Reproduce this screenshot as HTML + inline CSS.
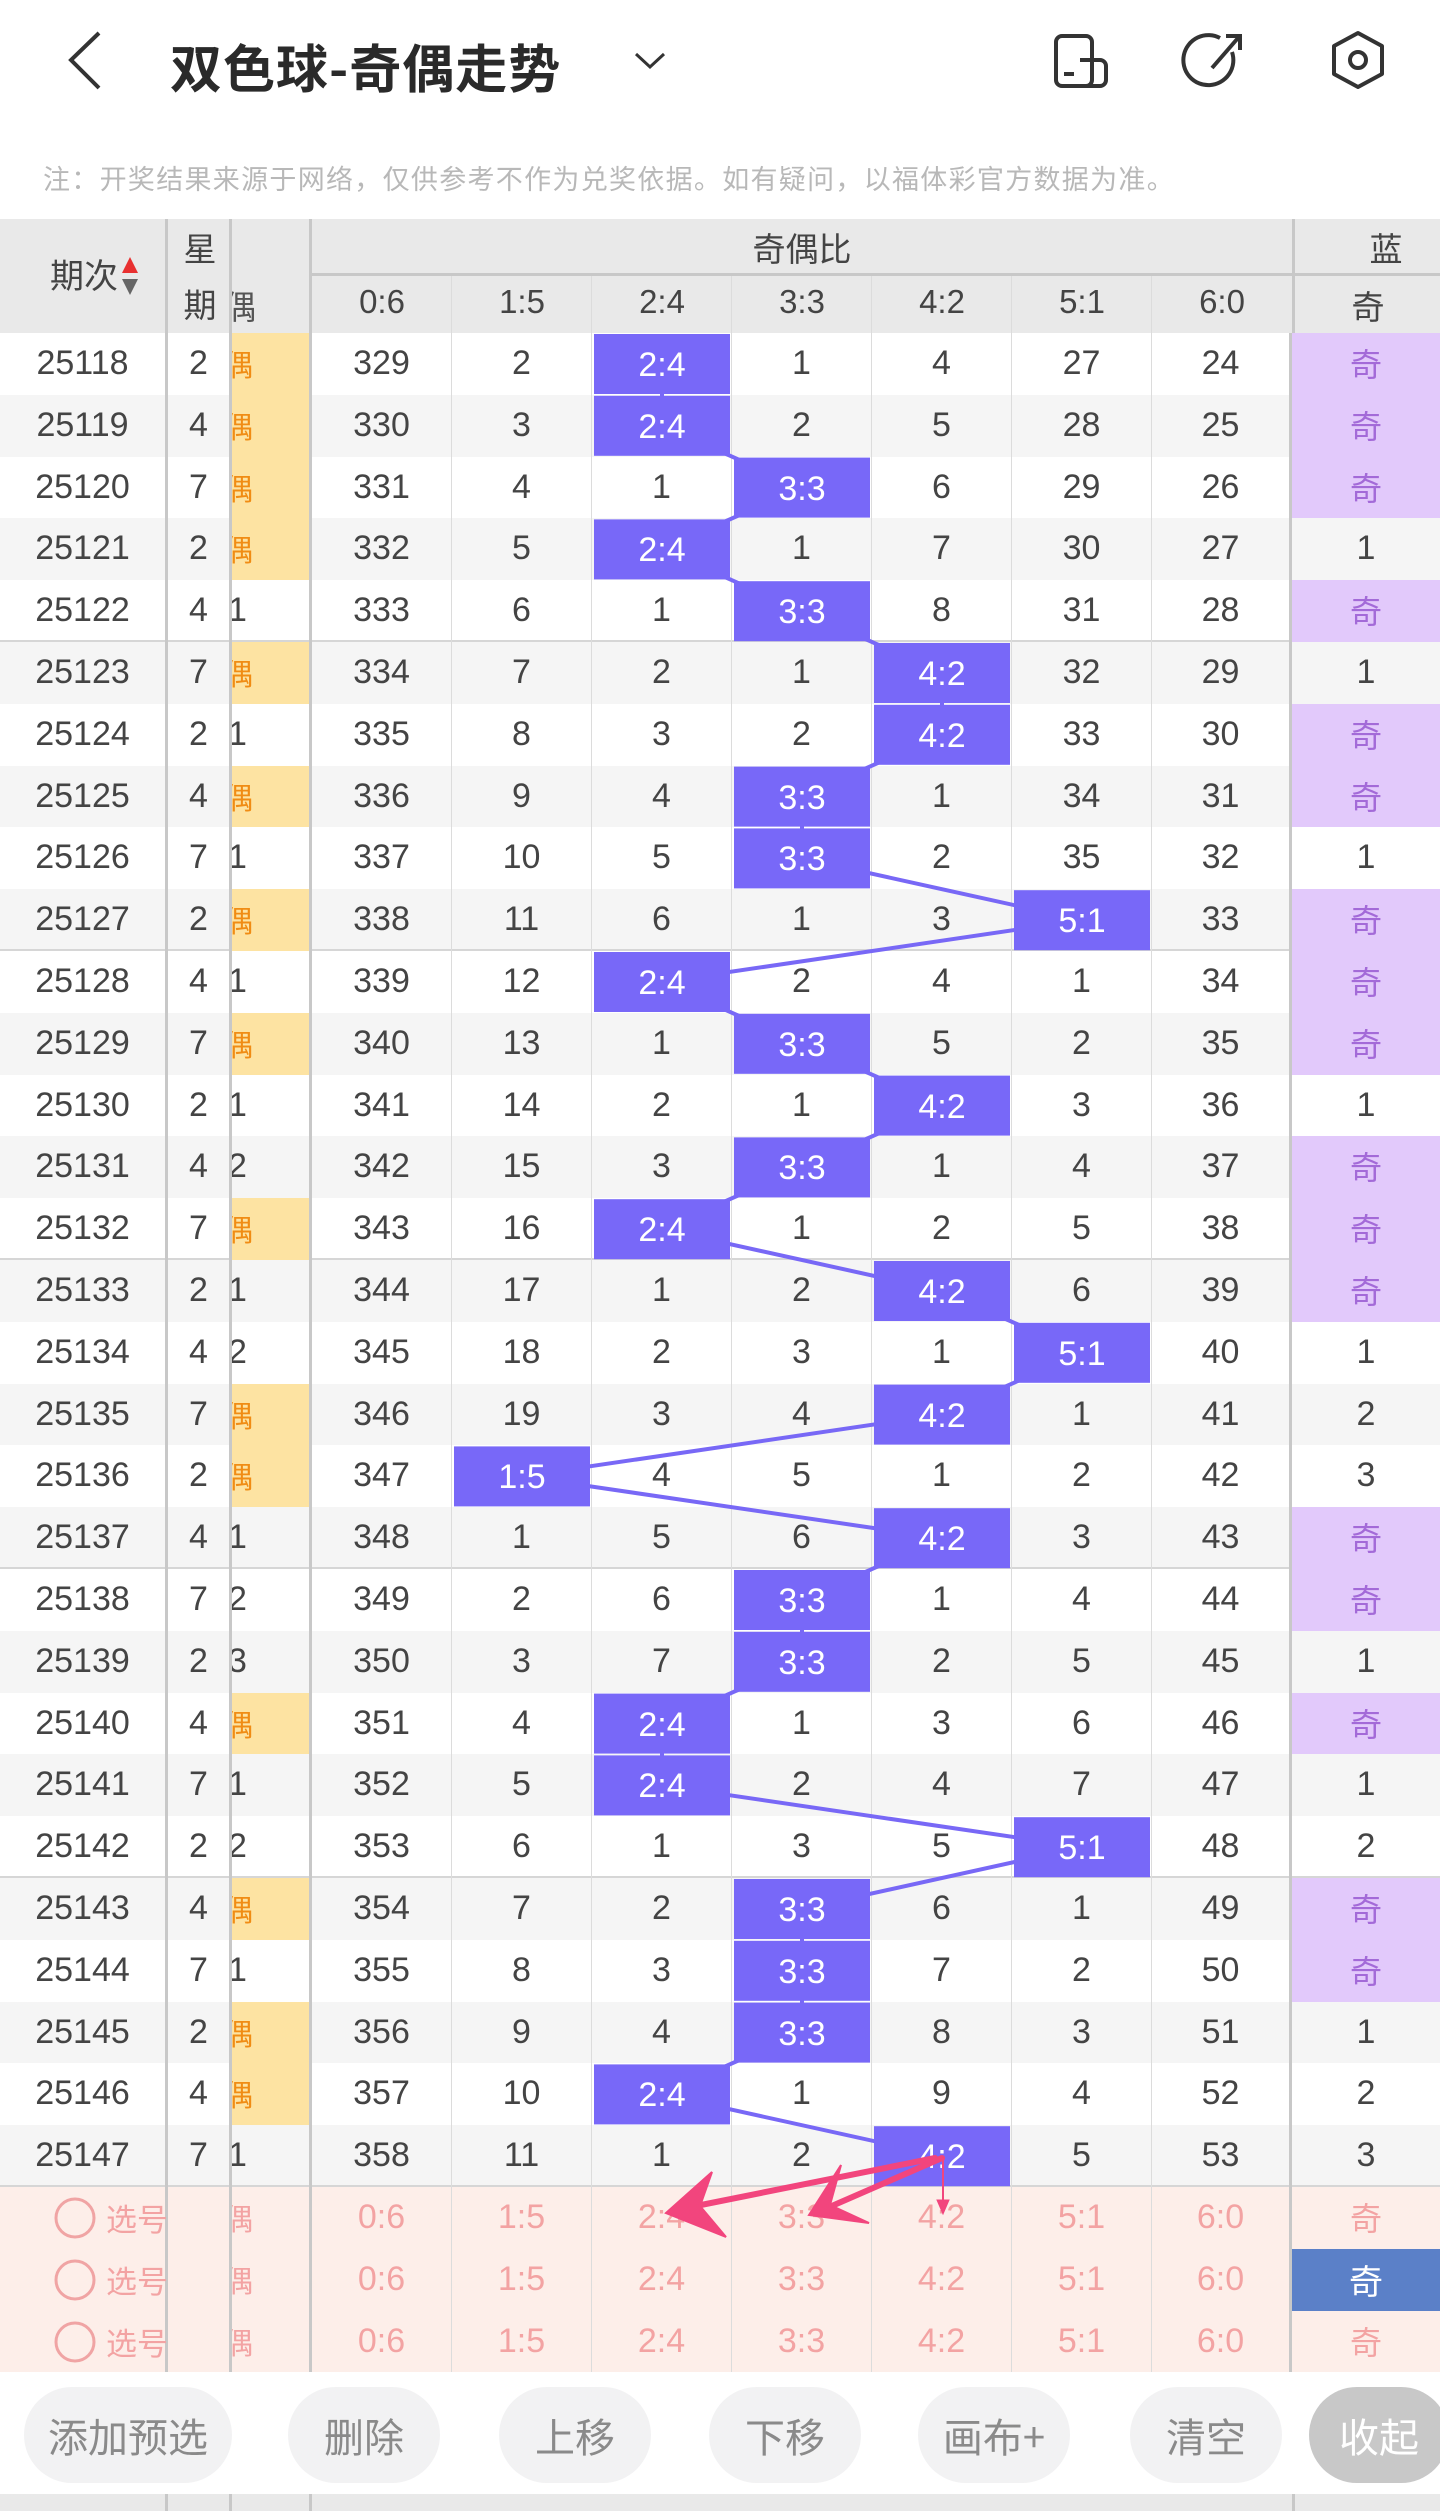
<!DOCTYPE html>
<html><head><meta charset="utf-8">
<style>
*{margin:0;padding:0;box-sizing:border-box}
body{width:1440px;height:2511px;position:relative;background:#fff;font-family:"Liberation Sans","Noto Sans CJK SC",sans-serif;color:#444;overflow:hidden}
.title{position:absolute;left:170px;top:28px;font-size:52px;font-weight:bold;color:#2a2a2a;letter-spacing:1px;font-family:"Noto Sans CJK SC",sans-serif}
.note{position:absolute;left:43px;top:158px;font-size:27px;color:#b8b8b8;letter-spacing:1.3px;font-family:"Noto Sans CJK SC",sans-serif}
.hd{position:absolute;left:0;top:219px;width:1440px;height:114px;background:#e9e9e9}
.hd div{position:absolute;font-size:33px;color:#444;text-align:center;font-family:"Noto Sans CJK SC",sans-serif}
.vl{position:absolute;background:#c8c8c8}
.tl{position:absolute;background:#dcdcdc;width:1px}
#rows{position:absolute;left:0;top:333px;width:1440px}
.r{display:flex;height:61.8px;font-size:34px;line-height:61.8px;background:#fff}
.r:nth-child(even){background:#f5f5f5}
.r:nth-child(5n){box-shadow:inset 0 -2px 0 #d6d6d6}
.r i{font-style:normal;display:block;text-align:center;overflow:hidden;white-space:nowrap;height:100%}
.r i:nth-child(1){width:168px;border-right:3px solid #c8c8c8}
.r i:nth-child(2){width:64px;border-right:3px solid #c8c8c8}
.r i:nth-child(3){width:80px;border-right:3px solid #c8c8c8;text-align:left;text-indent:-4px}
.r i:nth-child(n+4){width:140px;border-right:1px solid #dcdcdc}
.r i:nth-child(10){border-right:3px solid #c8c8c8}
.r i:nth-child(11){width:148px;border-right:none}
.r i.o{background:#fde3a2;color:#f08c14;font-family:"Noto Sans CJK SC",sans-serif;font-size:30px;text-indent:-9px}
.r i.q{background:#e2c9fb;color:#a36ad8;font-family:"Noto Sans CJK SC",sans-serif;font-size:32px}
#pred{position:absolute;left:0;top:2187px;width:1440px}
#pred .r{background:#fdeee9;color:#f3a3a3;box-shadow:none}
#pred .r i.o{background:none;color:#f3a3a3}
#pred .r i.q{background:none;color:#f3a3a3}
#pred .r i.b{background:#5b80c8;color:#fff;font-family:"Noto Sans CJK SC",sans-serif}
#pred .r i.s{text-align:left;padding-left:106px;font-family:"Noto Sans CJK SC",sans-serif;font-size:31px;overflow:visible}
.btn{position:absolute;top:2387px;height:96px;border-radius:48px;background:#f2f2f3;color:#8a8a8a;font-size:40px;text-align:center;line-height:96px;font-family:"Noto Sans CJK SC",sans-serif}
</style></head><body>
<svg style="position:absolute;left:0;top:0" width="1440" height="140">
<polyline points="99,33 71,60 99,88" fill="none" stroke="#333" stroke-width="4"/>
<polyline points="636,54 650,67 664,54" fill="none" stroke="#333" stroke-width="3"/>
<rect x="1056" y="36" width="36" height="50" rx="6" fill="none" stroke="#333" stroke-width="4"/>
<path d="M1080 60 H1100 a6 6 0 0 1 6 6 V80 a6 6 0 0 1 -6 6 H1080" fill="none" stroke="#333" stroke-width="4"/>
<line x1="1064" y1="74" x2="1074" y2="74" stroke="#333" stroke-width="4"/>
<path d="M1232 52 A25 25 0 1 1 1220 38" fill="none" stroke="#333" stroke-width="4"/>
<line x1="1212" y1="68" x2="1238" y2="38" stroke="#333" stroke-width="4"/>
<polyline points="1226,36 1240,36 1240,50" fill="none" stroke="#333" stroke-width="4"/>
<polygon points="1358,33 1382,46 1382,74 1358,87 1334,74 1334,46" fill="none" stroke="#333" stroke-width="4" stroke-linejoin="round"/>
<circle cx="1358" cy="60" r="8" fill="none" stroke="#333" stroke-width="4"/>
</svg>
<div class="title">双色球-奇偶走势</div>
<div class="note">注：开奖结果来源于网络，仅供参考不作为兑奖依据。如有疑问，以福体彩官方数据为准。</div>

<div class="hd">
<div style="left:0;width:168px;top:30px;font-size:34px;text-align:left;padding-left:50px">期次</div>
<div style="left:168px;width:64px;top:4px">星</div>
<div style="left:168px;width:64px;top:60px">期</div>
<div style="left:232px;width:80px;top:62px;text-align:left;text-indent:-9px;overflow:hidden;height:50px;color:#555">偶</div>
<div style="left:312px;width:980px;top:4px">奇偶比</div>
<div style="left:1296px;width:180px;top:4px">蓝</div>
<div style="left:312px;width:140px;top:64px;font-family:'Liberation Sans',sans-serif">0:6</div>
<div style="left:452px;width:140px;top:64px;font-family:'Liberation Sans',sans-serif">1:5</div>
<div style="left:592px;width:140px;top:64px;font-family:'Liberation Sans',sans-serif">2:4</div>
<div style="left:732px;width:140px;top:64px;font-family:'Liberation Sans',sans-serif">3:3</div>
<div style="left:872px;width:140px;top:64px;font-family:'Liberation Sans',sans-serif">4:2</div>
<div style="left:1012px;width:140px;top:64px;font-family:'Liberation Sans',sans-serif">5:1</div>
<div style="left:1152px;width:140px;top:64px;font-family:'Liberation Sans',sans-serif">6:0</div>
<div style="left:1296px;width:144px;top:62px">奇</div>
<svg style="position:absolute;left:122px;top:38px" width="16" height="40"><polygon points="8,0 16,16 0,16" fill="#e83030"/><polygon points="0,22 16,22 8,38" fill="#666"/></svg>
<div class="vl" style="left:312px;top:54px;width:1128px;height:3px"></div>
<div class="vl" style="left:165px;top:0;width:3px;height:114px"></div>
<div class="vl" style="left:229px;top:0;width:3px;height:114px"></div>
<div class="vl" style="left:309px;top:0;width:3px;height:114px"></div>
<div class="vl" style="left:1292px;top:0;width:3px;height:114px"></div>
<div class="tl" style="left:451px;top:57px;height:57px"></div>
<div class="tl" style="left:591px;top:57px;height:57px"></div>
<div class="tl" style="left:731px;top:57px;height:57px"></div>
<div class="tl" style="left:871px;top:57px;height:57px"></div>
<div class="tl" style="left:1011px;top:57px;height:57px"></div>
<div class="tl" style="left:1151px;top:57px;height:57px"></div>
</div>

<div id="rows">
<div class="r"><i>25118</i><i>2</i><i class="o">偶</i><i>329</i><i>2</i><i></i><i>1</i><i>4</i><i>27</i><i>24</i><i class="q">奇</i></div>
<div class="r"><i>25119</i><i>4</i><i class="o">偶</i><i>330</i><i>3</i><i></i><i>2</i><i>5</i><i>28</i><i>25</i><i class="q">奇</i></div>
<div class="r"><i>25120</i><i>7</i><i class="o">偶</i><i>331</i><i>4</i><i>1</i><i></i><i>6</i><i>29</i><i>26</i><i class="q">奇</i></div>
<div class="r"><i>25121</i><i>2</i><i class="o">偶</i><i>332</i><i>5</i><i></i><i>1</i><i>7</i><i>30</i><i>27</i><i>1</i></div>
<div class="r"><i>25122</i><i>4</i><i>1</i><i>333</i><i>6</i><i>1</i><i></i><i>8</i><i>31</i><i>28</i><i class="q">奇</i></div>
<div class="r"><i>25123</i><i>7</i><i class="o">偶</i><i>334</i><i>7</i><i>2</i><i>1</i><i></i><i>32</i><i>29</i><i>1</i></div>
<div class="r"><i>25124</i><i>2</i><i>1</i><i>335</i><i>8</i><i>3</i><i>2</i><i></i><i>33</i><i>30</i><i class="q">奇</i></div>
<div class="r"><i>25125</i><i>4</i><i class="o">偶</i><i>336</i><i>9</i><i>4</i><i></i><i>1</i><i>34</i><i>31</i><i class="q">奇</i></div>
<div class="r"><i>25126</i><i>7</i><i>1</i><i>337</i><i>10</i><i>5</i><i></i><i>2</i><i>35</i><i>32</i><i>1</i></div>
<div class="r"><i>25127</i><i>2</i><i class="o">偶</i><i>338</i><i>11</i><i>6</i><i>1</i><i>3</i><i></i><i>33</i><i class="q">奇</i></div>
<div class="r"><i>25128</i><i>4</i><i>1</i><i>339</i><i>12</i><i></i><i>2</i><i>4</i><i>1</i><i>34</i><i class="q">奇</i></div>
<div class="r"><i>25129</i><i>7</i><i class="o">偶</i><i>340</i><i>13</i><i>1</i><i></i><i>5</i><i>2</i><i>35</i><i class="q">奇</i></div>
<div class="r"><i>25130</i><i>2</i><i>1</i><i>341</i><i>14</i><i>2</i><i>1</i><i></i><i>3</i><i>36</i><i>1</i></div>
<div class="r"><i>25131</i><i>4</i><i>2</i><i>342</i><i>15</i><i>3</i><i></i><i>1</i><i>4</i><i>37</i><i class="q">奇</i></div>
<div class="r"><i>25132</i><i>7</i><i class="o">偶</i><i>343</i><i>16</i><i></i><i>1</i><i>2</i><i>5</i><i>38</i><i class="q">奇</i></div>
<div class="r"><i>25133</i><i>2</i><i>1</i><i>344</i><i>17</i><i>1</i><i>2</i><i></i><i>6</i><i>39</i><i class="q">奇</i></div>
<div class="r"><i>25134</i><i>4</i><i>2</i><i>345</i><i>18</i><i>2</i><i>3</i><i>1</i><i></i><i>40</i><i>1</i></div>
<div class="r"><i>25135</i><i>7</i><i class="o">偶</i><i>346</i><i>19</i><i>3</i><i>4</i><i></i><i>1</i><i>41</i><i>2</i></div>
<div class="r"><i>25136</i><i>2</i><i class="o">偶</i><i>347</i><i></i><i>4</i><i>5</i><i>1</i><i>2</i><i>42</i><i>3</i></div>
<div class="r"><i>25137</i><i>4</i><i>1</i><i>348</i><i>1</i><i>5</i><i>6</i><i></i><i>3</i><i>43</i><i class="q">奇</i></div>
<div class="r"><i>25138</i><i>7</i><i>2</i><i>349</i><i>2</i><i>6</i><i></i><i>1</i><i>4</i><i>44</i><i class="q">奇</i></div>
<div class="r"><i>25139</i><i>2</i><i>3</i><i>350</i><i>3</i><i>7</i><i></i><i>2</i><i>5</i><i>45</i><i>1</i></div>
<div class="r"><i>25140</i><i>4</i><i class="o">偶</i><i>351</i><i>4</i><i></i><i>1</i><i>3</i><i>6</i><i>46</i><i class="q">奇</i></div>
<div class="r"><i>25141</i><i>7</i><i>1</i><i>352</i><i>5</i><i></i><i>2</i><i>4</i><i>7</i><i>47</i><i>1</i></div>
<div class="r"><i>25142</i><i>2</i><i>2</i><i>353</i><i>6</i><i>1</i><i>3</i><i>5</i><i></i><i>48</i><i>2</i></div>
<div class="r"><i>25143</i><i>4</i><i class="o">偶</i><i>354</i><i>7</i><i>2</i><i></i><i>6</i><i>1</i><i>49</i><i class="q">奇</i></div>
<div class="r"><i>25144</i><i>7</i><i>1</i><i>355</i><i>8</i><i>3</i><i></i><i>7</i><i>2</i><i>50</i><i class="q">奇</i></div>
<div class="r"><i>25145</i><i>2</i><i class="o">偶</i><i>356</i><i>9</i><i>4</i><i></i><i>8</i><i>3</i><i>51</i><i>1</i></div>
<div class="r"><i>25146</i><i>4</i><i class="o">偶</i><i>357</i><i>10</i><i></i><i>1</i><i>9</i><i>4</i><i>52</i><i>2</i></div>
<div class="r"><i>25147</i><i>7</i><i>1</i><i>358</i><i>11</i><i>1</i><i>2</i><i></i><i>5</i><i>53</i><i>3</i></div>
</div>

<div id="pred">
<div class="r"><i class="s">选号</i><i></i><i class="o">偶</i><i>0:6</i><i>1:5</i><i>2:4</i><i>3:3</i><i>4:2</i><i>5:1</i><i>6:0</i><i class="q">奇</i></div>
<div class="r"><i class="s">选号</i><i></i><i class="o">偶</i><i>0:6</i><i>1:5</i><i>2:4</i><i>3:3</i><i>4:2</i><i>5:1</i><i>6:0</i><i class="b">奇</i></div>
<div class="r"><i class="s">选号</i><i></i><i class="o">偶</i><i>0:6</i><i>1:5</i><i>2:4</i><i>3:3</i><i>4:2</i><i>5:1</i><i>6:0</i><i class="q">奇</i></div>
</div>

<svg style="position:absolute;left:0;top:0" width="1440" height="2511">
<g fill="none" stroke="#f0a4a4" stroke-width="3">
<circle cx="75" cy="2218" r="19"/><circle cx="75" cy="2280" r="19"/><circle cx="75" cy="2342" r="19"/>
</g>
<polyline fill="none" stroke="#7868f6" stroke-width="4" points="662,363.9 662,425.7 802,487.5 662,549.3 802,611.1 942,672.9 942,734.7 802,796.5 802,858.3 1082,920.1 662,981.9 802,1043.7 942,1105.5 802,1167.3 662,1229.1 942,1290.9 1082,1352.7 942,1414.5 522,1476.3 942,1538.1 802,1599.9 802,1661.7 662,1723.5 662,1785.3 1082,1847.1 802,1908.9 802,1970.7 802,2032.5 662,2094.3 942,2156.1"/>
<g fill="#7868f8">
<rect x="594" y="334" width="136" height="60"/>
<rect x="594" y="395.8" width="136" height="60"/>
<rect x="734" y="457.6" width="136" height="60"/>
<rect x="594" y="519.4" width="136" height="60"/>
<rect x="734" y="581.2" width="136" height="60"/>
<rect x="874" y="643" width="136" height="60"/>
<rect x="874" y="704.8" width="136" height="60"/>
<rect x="734" y="766.6" width="136" height="60"/>
<rect x="734" y="828.4" width="136" height="60"/>
<rect x="1014" y="890.2" width="136" height="60"/>
<rect x="594" y="952" width="136" height="60"/>
<rect x="734" y="1013.8" width="136" height="60"/>
<rect x="874" y="1075.6" width="136" height="60"/>
<rect x="734" y="1137.4" width="136" height="60"/>
<rect x="594" y="1199.2" width="136" height="60"/>
<rect x="874" y="1261" width="136" height="60"/>
<rect x="1014" y="1322.8" width="136" height="60"/>
<rect x="874" y="1384.6" width="136" height="60"/>
<rect x="454" y="1446.4" width="136" height="60"/>
<rect x="874" y="1508.2" width="136" height="60"/>
<rect x="734" y="1570" width="136" height="60"/>
<rect x="734" y="1631.8" width="136" height="60"/>
<rect x="594" y="1693.6" width="136" height="60"/>
<rect x="594" y="1755.4" width="136" height="60"/>
<rect x="1014" y="1817.2" width="136" height="60"/>
<rect x="734" y="1879" width="136" height="60"/>
<rect x="734" y="1940.8" width="136" height="60"/>
<rect x="734" y="2002.6" width="136" height="60"/>
<rect x="594" y="2064.4" width="136" height="60"/>
<rect x="874" y="2126.2" width="136" height="60"/>
</g>
<g fill="#fff" font-size="34" text-anchor="middle" font-family="Liberation Sans, sans-serif">
<text x="662" y="376">2:4</text>
<text x="662" y="438">2:4</text>
<text x="802" y="500">3:3</text>
<text x="662" y="561">2:4</text>
<text x="802" y="623">3:3</text>
<text x="942" y="685">4:2</text>
<text x="942" y="747">4:2</text>
<text x="802" y="809">3:3</text>
<text x="802" y="870">3:3</text>
<text x="1082" y="932">5:1</text>
<text x="662" y="994">2:4</text>
<text x="802" y="1056">3:3</text>
<text x="942" y="1118">4:2</text>
<text x="802" y="1179">3:3</text>
<text x="662" y="1241">2:4</text>
<text x="942" y="1303">4:2</text>
<text x="1082" y="1365">5:1</text>
<text x="942" y="1427">4:2</text>
<text x="522" y="1488">1:5</text>
<text x="942" y="1550">4:2</text>
<text x="802" y="1612">3:3</text>
<text x="802" y="1674">3:3</text>
<text x="662" y="1736">2:4</text>
<text x="662" y="1797">2:4</text>
<text x="1082" y="1859">5:1</text>
<text x="802" y="1921">3:3</text>
<text x="802" y="1983">3:3</text>
<text x="802" y="2045">3:3</text>
<text x="662" y="2106">2:4</text>
<text x="942" y="2168">4:2</text>
</g>
<g stroke="#f2457d" stroke-width="6" stroke-linecap="round" fill="#f2457d">
<line x1="935" y1="2158" x2="676" y2="2210"/>
<polygon points="666,2213 712,2172 700,2206 726,2237" stroke-width="2"/>
<line x1="942" y1="2158" x2="818" y2="2212"/>
<polygon points="809,2215 841,2165 830,2205 869,2223" stroke-width="2"/>
<line x1="943" y1="2158" x2="943" y2="2206" stroke-width="2"/>
<polygon points="937,2200 949,2200 943,2214" stroke-width="1"/>
</g>
</svg>

<div class="btn" style="left:24px;width:208px">添加预选</div>
<div class="btn" style="left:288px;width:152px">删除</div>
<div class="btn" style="left:499px;width:152px">上移</div>
<div class="btn" style="left:709px;width:152px">下移</div>
<div class="btn" style="left:918px;width:152px">画布+</div>
<div class="btn" style="left:1130px;width:152px">清空</div>
<div class="btn" style="left:1309px;width:140px;background:#c8c8c8;color:#fff">收起</div>

<div style="position:absolute;left:0;top:2494px;width:1440px;height:17px;background:#e9e9e9"></div>
<div class="vl" style="left:165px;top:2494px;width:3px;height:17px"></div>
<div class="vl" style="left:229px;top:2494px;width:3px;height:17px"></div>
<div class="vl" style="left:309px;top:2494px;width:3px;height:17px"></div>
<div class="vl" style="left:1292px;top:2494px;width:3px;height:17px"></div>
</body></html>
